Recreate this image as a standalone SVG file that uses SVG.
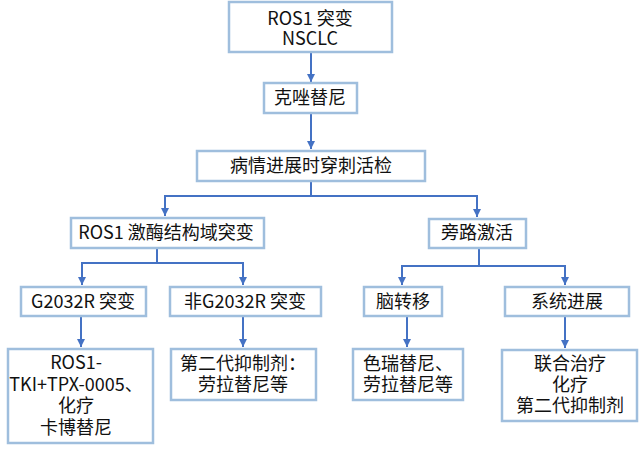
<svg xmlns="http://www.w3.org/2000/svg" width="640" height="449" viewBox="0 0 640 449">
<defs>
<style>
.box{fill:#fff;stroke:#9FBEDD;stroke-width:2.5}
.t{font-family:"Noto Sans CJK SC","Noto Sans",sans-serif;font-size:18px;fill:#111;text-anchor:middle}
.c{fill:none;stroke:#4472C4;stroke-width:2}
</style>
<marker id="ah" markerUnits="userSpaceOnUse" markerWidth="10" markerHeight="10" refX="8" refY="4" orient="auto">
<path d="M0,0 L8,4 L0,8 Z" fill="#4472C4"/>
</marker>
</defs>
<rect width="640" height="449" fill="#fff"/>
<g id="connectors">
<path class="c" d="M311,52 V82" marker-end="url(#ah)"/>
<path class="c" d="M311,113 V149" marker-end="url(#ah)"/>
<path class="c" d="M311,181 V196 H165 V216" marker-end="url(#ah)"/>
<path class="c" d="M311,196 H477 V217" marker-end="url(#ah)"/>
<path class="c" d="M157,248 V263 H82 V285" marker-end="url(#ah)"/>
<path class="c" d="M157,263 H243 V285" marker-end="url(#ah)"/>
<path class="c" d="M479,248 V266 H402 V285" marker-end="url(#ah)"/>
<path class="c" d="M479,266 H565 V285" marker-end="url(#ah)"/>
<path class="c" d="M81,316 V347" marker-end="url(#ah)"/>
<path class="c" d="M243,316 V347" marker-end="url(#ah)"/>
<path class="c" d="M407,316 V347" marker-end="url(#ah)"/>
<path class="c" d="M565,316 V348" marker-end="url(#ah)"/>
</g>
<g id="n1"><rect class="box" x="229" y="2" width="163" height="50"/><text class="t" x="310" y="25">ROS1 突变<tspan x="310" dy="20">NSCLC</tspan></text></g>
<g id="n2"><rect class="box" x="264" y="83" width="93" height="30"/><text class="t" x="310" y="104">克唑替尼</text></g>
<g id="n3"><rect class="box" x="197" y="151" width="228" height="30"/><text class="t" x="311" y="172">病情进展时穿刺活检</text></g>
<g id="n4"><rect class="box" x="71" y="218" width="193" height="30"/><text class="t" x="166" y="239">ROS1 激酶结构域突变</text></g>
<g id="n5"><rect class="box" x="429" y="219" width="97" height="29"/><text class="t" x="477" y="239">旁路激活</text></g>
<g id="n6"><rect class="box" x="21" y="287" width="125" height="29"/><text class="t" x="83" y="308">G2032R 突变</text></g>
<g id="n7"><rect class="box" x="170" y="287" width="151" height="29"/><text class="t" x="245" y="308">非G2032R 突变</text></g>
<g id="n8"><rect class="box" x="364" y="287" width="78" height="29"/><text class="t" x="403" y="308">脑转移</text></g>
<g id="n9"><rect class="box" x="505" y="287" width="124" height="29"/><text class="t" x="567" y="308">系统进展</text></g>
<g id="n10"><rect class="box" x="8" y="349" width="145" height="94"/><text class="t" x="76" y="369">ROS1-<tspan x="76" dy="21.5">TKI+TPX-0005、</tspan><tspan x="76" dy="21.5">化疗</tspan><tspan x="76" dy="21.5">卡博替尼</tspan></text></g>
<g id="n11"><rect class="box" x="171" y="349" width="145" height="51"/><text class="t" x="243" y="370">第二代抑制剂：<tspan x="243" dy="21">劳拉替尼等</tspan></text></g>
<g id="n12"><rect class="box" x="353" y="349" width="110" height="51"/><text class="t" x="408" y="370">色瑞替尼、<tspan x="408" dy="21">劳拉替尼等</tspan></text></g>
<g id="n13"><rect class="box" x="502" y="350" width="135" height="71"/><text class="t" x="570" y="370">联合治疗<tspan x="570" dy="21">化疗</tspan><tspan x="570" dy="21">第二代抑制剂</tspan></text></g>
</svg>
